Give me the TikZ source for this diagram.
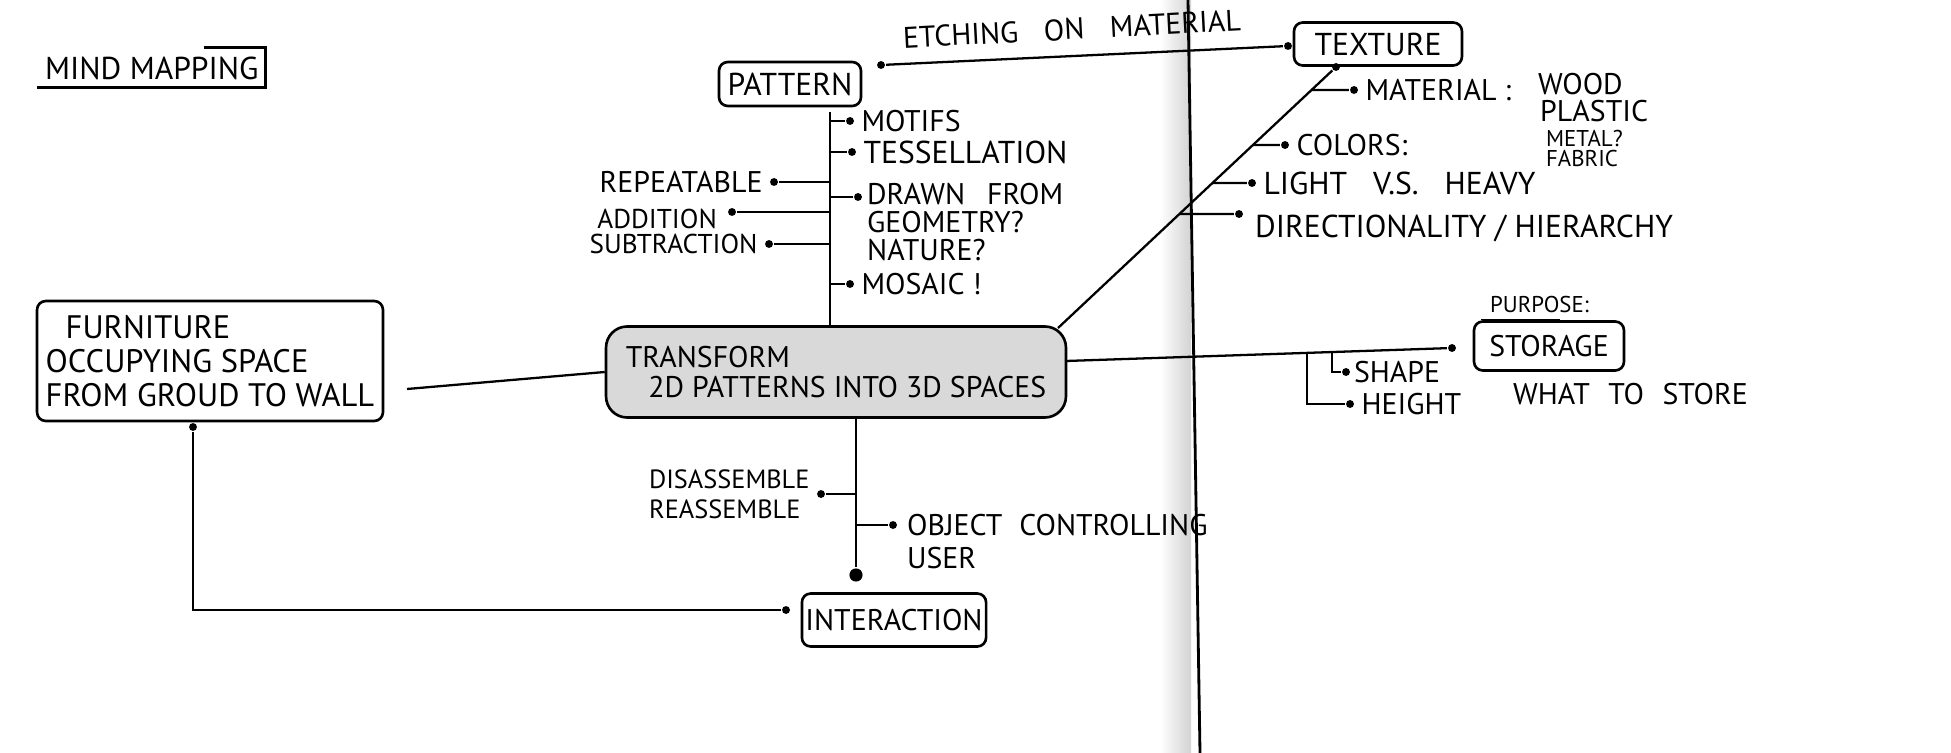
\documentclass[tikz,border=0pt]{standalone}
\usepackage{fontspec}
\setmainfont{PT Sans}
\usetikzlibrary{positioning, calc}

\tikzset{
  hand/.style={font=\fontsize{17}{19}\selectfont},
  box/.style={draw, hand, line width=1.5pt, rounded corners=5pt, inner sep=2pt},
  dot/.style={circle, fill, inner sep=0pt, minimum size=4.5pt},
  bigdot/.style={dot, minimum size=7.5pt},
  word/.style={hand, inner sep=0pt, anchor=west},
  small/.style={word, font=\fontsize{13}{15}\selectfont},
}

\begin{document}
\begin{tikzpicture}[x=0.02cm, y=-0.02cm, line width=1.3pt, node distance=3pt]

   \useasboundingbox (0,0) rectangle (1951,753);

   % notebook spine
   \shade[left color=white, right color=gray!35] (1160,0) rectangle (1191,753);

   % boxes
   \node[word, font=\fontsize{18}{20}\selectfont] (title) at (44,68) {MIND MAPPING};
   \node[box, minimum width=2.84cm, minimum height=0.88cm, font=\fontsize{18}{20}\selectfont] (pattern) at (790,84) {PATTERN};
   \node[box, minimum width=3.36cm, minimum height=0.86cm, font=\fontsize{18}{20}\selectfont] (texture) at (1378,44) {TEXTURE};
   \node[box, fill=gray!30, rounded corners=12pt, minimum width=9.2cm, minimum height=1.82cm,
         align=left, font=\fontsize{17}{17}\selectfont] (transform) at (836,372)
         {TRANSFORM\\\hspace*{0.45cm}2D PATTERNS INTO 3D SPACES};
   \node[box, minimum width=6.92cm, minimum height=2.4cm, align=left,
         font=\fontsize{18.5}{19.5}\selectfont] (furniture) at (210,361)
         {\hspace*{0.4cm}FURNITURE\\OCCUPYING SPACE\\FROM GROUD TO WALL};
   \node[box, minimum width=3.0cm, minimum height=0.98cm] (storage) at (1549,346) {STORAGE};
   \node[box, minimum width=3.66cm, minimum height=1.06cm] (interaction) at (894,620) {INTERACTION};

   % title frame
   \draw ([shift={(-7,7)}]title.south west) -- ([shift={(6,7)}]title.south east)
         -- ([shift={(6,-8)}]title.north east) -- ++(-62,0);

   % pattern -> texture
   \node[dot] (dEtch) at (881,65) {};
   \node[dot] (dTex) at (1288,46) {};
   \node[word, rotate=3] (etch) at (902,38) {ETCHING\hspace{10pt} ON\hspace{10pt} MATERIAL};
   \draw (dEtch) -- (dTex);

   % pattern trunk
   \coordinate (pTop) at (830,112);
   \draw (pTop) -- (pTop |- transform.north);

   \node[dot] (dMot) at (850,121) {};
   \node[word, right=of dMot] (motifs) {MOTIFS};
   \node[dot] (dTes) at (852,152) {};
   \node[word, right=of dTes, font=\fontsize{18}{20}\selectfont] (tess) {TESSELLATION};
   \node[dot] (dDrw) at (858,197) {};
   \node[word, align=left, anchor=north west, font=\fontsize{17}{16}\selectfont] (drawn) at (866,182)
        {DRAWN\hspace{8pt} FROM\\GEOMETRY?\\NATURE?};
   \node[dot] (dMos) at (850,284) {};
   \node[word, right=of dMos] (mosaic) {MOSAIC !};
   \foreach \d in {dMot, dTes, dDrw, dMos}
      \draw (pTop |- \d) -- (\d);

   \node[dot] (dRep) at (774,182) {};
   \node[word, left=of dRep] (repeat) {REPEATABLE};
   \node[dot] (dAdd) at (732,212) {};
   \node[word, anchor=east, font=\fontsize{15.5}{17}\selectfont] (addition) at (718,219) {ADDITION};
   \node[dot] (dSub) at (769,244) {};
   \node[word, left=of dSub, font=\fontsize{15.5}{17}\selectfont] (subtract) {SUBTRACTION};
   \foreach \d in {dRep, dAdd, dSub}
      \draw (\d) -- (pTop |- \d);

   % furniture -> transform
   \coordinate (fOut) at (407,389);
   \draw (fOut) -- (transform.west);

   % transform -> interaction
   \coordinate (tLow) at (856,417);
   \node[bigdot] (dEnd) at (856,575) {};
   \draw (tLow) -- (dEnd);
   \node[dot] (dDis) at (821,494) {};
   \node[word, left=of dDis, align=left, font=\fontsize{15}{17}\selectfont] (disas)
        {DISASSEMBLE\\REASSEMBLE};
   \node[dot] (dObj) at (893,525) {};
   \node[word, align=left, anchor=north west, font=\fontsize{17}{19}\selectfont] (object) at (906,513)
        {OBJECT\hspace{5pt} CONTROLLING\\USER};
   \draw (dDis) -- (tLow |- dDis);
   \draw (tLow |- dObj) -- (dObj);

   % furniture -> interaction
   \node[dot] (dFur) at (193,427) {};
   \node[dot] (dInt) at (786,610) {};
   \draw (dFur) |- (dInt);

   % transform -> texture
   \coordinate (tUp) at (1058,328);
   \node[dot] (dTexB) at (1336,67) {};
   \draw (tUp) -- (dTexB);
   \node[dot] (dMat) at (1354,90) {};
   \node[word, right=of dMat] (material) {MATERIAL :};
   \node[dot] (dCol) at (1285,145) {};
   \node[word, right=of dCol] (colors) {COLORS:};
   \node[dot] (dLig) at (1252,183) {};
   \node[word, right=of dLig, font=\fontsize{18}{20}\selectfont] (light) {LIGHT\hspace{10pt} V.S.\hspace{10pt} HEAVY};
   \node[dot] (dDir) at (1239,214) {};
   \node[word, font=\fontsize{18}{20}\selectfont] (direct) at (1254,228) {DIRECTIONALITY / HIERARCHY};
   \draw ($(tUp)!0.912!(dTexB)$) -- (dMat);
   \draw ($(tUp)!0.701!(dTexB)$) -- (dCol);
   \draw ($(tUp)!0.556!(dTexB)$) -- (dLig);
   \draw ($(tUp)!0.437!(dTexB)$) -- (dDir);

   \node[word] (wood) at (1537,84) {WOOD};
   \node[word] (plastic) at (1539,111) {PLASTIC};
   \node[small] (metal) at (1545,139) {METAL?};
   \node[small] (fabric) at (1545,159) {FABRIC};

   % transform -> storage
   \coordinate (tRight) at (1066,361);
   \node[dot] (dSto) at (1452,348) {};
   \draw (tRight) -- (dSto);
   \node[small] (purpose) at (1489,305) {PURPOSE:};
   \draw[line width=1pt] ([shift={(-8,5)}]purpose.south west) -- ([shift={(-30,5)}]purpose.south east);
   \node[dot] (dShp) at (1346,372) {};
   \node[word, right=1pt of dShp] (shape) {SHAPE};
   \node[dot] (dHgt) at (1350,404) {};
   \node[word, right=of dHgt] (height) {HEIGHT};
   \draw ($(tRight)!0.69!(dSto)$) |- (dShp);
   \draw ($(tRight)!0.625!(dSto)$) |- (dHgt);
   \node[word] (what) at (1512,394) {WHAT\hspace{6pt} TO\hspace{6pt} STORE};

   % spine fold
   \draw[line width=1.6pt] (1188,0) -- (1200,753);

\end{tikzpicture}
\end{document}
